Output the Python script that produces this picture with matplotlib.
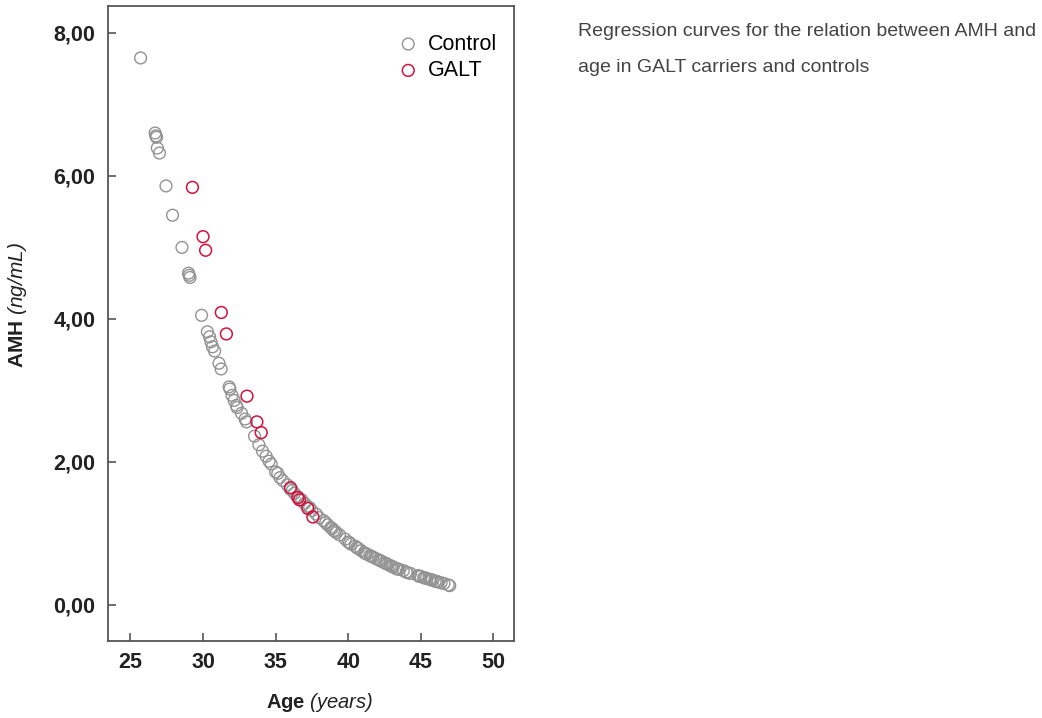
import matplotlib
matplotlib.use("Agg")
import matplotlib.pyplot as plt

plt.rcParams['font.family'] = ['Liberation Sans', 'DejaVu Sans']
plt.rcParams['mathtext.fontset'] = 'custom'
# rm is italic so the brackets of the unit come out slanted too
plt.rcParams['mathtext.rm'] = 'Liberation Sans:italic'
plt.rcParams['mathtext.bf'] = 'Liberation Sans:bold'
plt.rcParams['mathtext.it'] = 'Liberation Sans:italic'

# Control group (age, AMH)
ctrl_age = [25.7, 26.7, 26.75, 26.8, 26.85, 27.0, 27.45, 27.9, 28.55, 29.0, 29.05, 29.1,
            29.9, 30.3, 30.45, 30.55, 30.65, 30.8, 31.1, 31.25, 31.8, 31.85, 32.0, 32.15,
            32.3, 32.35, 32.65, 32.9, 33.0, 33.55, 33.85, 34.1, 34.35, 34.55, 34.7,
            35.0, 35.3, 35.5, 35.8, 36.0, 36.3, 36.5, 36.8, 37.0, 37.2, 37.5, 37.8,
            38.0, 38.3, 38.6, 38.8, 39.0, 39.2, 39.4, 39.8, 40.0, 40.2, 40.5, 40.7,
            40.9, 41.1, 41.3, 41.5, 41.7, 41.9, 42.1, 42.3, 42.5, 42.7, 42.9, 43.1,
            43.3, 43.5, 43.8, 44.0, 44.3, 44.8, 45.0, 45.2, 45.4, 45.6, 45.8, 46.0,
            46.2, 46.4, 46.9, 47.0,
            35.15, 36.15, 37.35, 38.45, 38.9, 39.1, 40.1, 40.6, 41.2, 41.6, 42.2,
            42.6, 43.0, 43.4, 44.1, 44.9, 45.3, 45.7, 46.1, 46.6]
ctrl_amh = [7.65, 6.60, 6.56, 6.54, 6.39, 6.32, 5.86, 5.45, 5.00, 4.64, 4.61, 4.58,
            4.05, 3.82, 3.75, 3.68, 3.61, 3.55, 3.38, 3.30, 3.05, 3.02, 2.93, 2.86,
            2.79, 2.76, 2.68, 2.60, 2.56, 2.36, 2.24, 2.15, 2.08, 2.01, 1.97,
            1.86, 1.78, 1.74, 1.68, 1.62, 1.56, 1.52, 1.47, 1.42, 1.38, 1.32, 1.27,
            1.22, 1.18, 1.12, 1.08, 1.04, 1.01, 0.98, 0.92, 0.88, 0.85, 0.82, 0.79,
            0.76, 0.73, 0.71, 0.69, 0.67, 0.65, 0.63, 0.61, 0.59, 0.57, 0.55, 0.53,
            0.51, 0.50, 0.48, 0.46, 0.44, 0.41, 0.40, 0.38, 0.37, 0.36, 0.35, 0.33,
            0.32, 0.31, 0.28, 0.27,
            1.84, 1.60, 1.36, 1.15, 1.07, 1.03, 0.87, 0.80, 0.72, 0.68, 0.62,
            0.58, 0.54, 0.50, 0.45, 0.40, 0.38, 0.35, 0.33, 0.30]

# GALT carriers (age, AMH)
galt_age = [29.27, 30.0, 30.18, 31.26, 31.61, 33.03, 33.71, 34.01, 36.03, 36.54, 36.65, 37.22, 37.57]
galt_amh = [5.84, 5.15, 4.96, 4.09, 3.79, 2.92, 2.56, 2.41, 1.64, 1.50, 1.47, 1.35, 1.23]

x_ticks = [25, 30, 35, 40, 45, 50]
y_ticks = [0, 2, 4, 6, 8]
y_ticklabels = ['0,00', '2,00', '4,00', '6,00', '8,00']

gray = '#939393'
red = '#d3123f'

fig = plt.figure(figsize=(10.42, 7.18), dpi=100)
ax = fig.add_axes([0.1036, 0.1077, 0.390, 0.8843])

ax.scatter(ctrl_age, ctrl_amh, s=72, facecolors='none', edgecolors=gray, linewidths=1.0, label='Control')
ax.scatter(galt_age, galt_amh, s=72, facecolors='none', edgecolors=red, linewidths=1.1, label='GALT')

ax.set_xlim(23.45, 51.45)
ax.set_ylim(-0.5, 8.38)
ax.set_xticks(x_ticks)
ax.set_yticks(y_ticks)
ax.set_yticklabels(y_ticklabels)
ax.tick_params(direction='in', length=6, width=1.2, color='#555555', labelsize=15.5,
               labelcolor='#222222')
ax.tick_params(axis='y', pad=9)
ax.tick_params(axis='x', pad=8)
for lab in ax.get_xticklabels() + ax.get_yticklabels():
    lab.set_fontweight('bold')
for sp in ax.spines.values():
    sp.set_color('#555555')
    sp.set_linewidth(1.3)

ax.legend(loc='upper right', frameon=False, fontsize=15.5, handletextpad=0.4,
          borderaxespad=0, borderpad=0, labelspacing=0.25, handlelength=1.0,
          bbox_to_anchor=(0.957, 0.956))

fig.text(320 / 1042, 1 - 703 / 718, r'$\bf{Age}\ \mathrm{(years)}$', ha='center', va='center',
         fontsize=14.5, color='#222222')
fig.text(18 / 1042, 1 - 305 / 718, r'$\bf{AMH}\ \mathrm{(ng/mL)}$', ha='center', va='center',
         rotation=90, fontsize=15, color='#222222')

fig.text(578 / 1042, 1 - 31 / 718, 'Regression curves for the relation between AMH and',
         ha='left', va='center', fontsize=14, color='#444444')
fig.text(578 / 1042, 1 - 67 / 718, 'age in GALT carriers and controls',
         ha='left', va='center', fontsize=14, color='#444444')

fig.savefig('out.png', dpi=100)
